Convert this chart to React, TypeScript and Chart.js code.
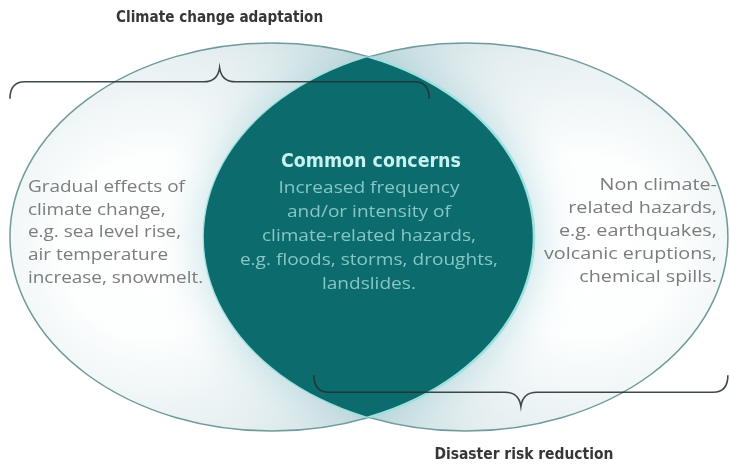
import React, { useEffect, useRef } from "react";
import { Chart, registerables } from "chart.js";

Chart.register(...registerables);

// ---- Data ----
const setNames = ["Climate change adaptation", "Disaster risk reduction"];
const setCenterX = [-0.37, 0.37];
const setCenterY = [0, 0];
const setRadius = [1, 1];
const overlapTitle = "Common concerns";
const leftOnlyLines = [
  "Gradual effects of",
  "climate change,",
  "e.g. sea level rise,",
  "air temperature",
  "increase, snowmelt.",
];
const overlapLines = [
  "Increased frequency",
  "and/or intensity of",
  "climate-related hazards,",
  "e.g. floods, storms, droughts,",
  "landslides.",
];
const rightOnlyLines = [
  "Non climate-",
  "related hazards,",
  "e.g. earthquakes,",
  "volcanic eruptions,",
  "chemical spills.",
];

const TEAL = "#0c6b6c";

function fitText(
  ctx: CanvasRenderingContext2D,
  text: string,
  x: number,
  y: number,
  align: CanvasTextAlign,
  sx: number
) {
  ctx.save();
  ctx.translate(x, y);
  ctx.scale(sx, 1);
  ctx.textAlign = align;
  ctx.textBaseline = "middle";
  ctx.fillText(text, 0, 0);
  ctx.restore();
}

function drawBlock(
  ctx: CanvasRenderingContext2D,
  lines: string[],
  x: number,
  y0: number,
  step: number,
  align: CanvasTextAlign,
  refIndex: number,
  targetW: number
) {
  const sx = targetW / ctx.measureText(lines[refIndex]).width;
  lines.forEach((l, i) => fitText(ctx, l, x, y0 + i * step, align, sx));
}

const vennPlugin = {
  id: "venn",
  beforeDatasetsDraw(chart: any) {
    const ctx: CanvasRenderingContext2D = chart.ctx;
    const xs = chart.scales.x;
    const ys = chart.scales.y;
    const W = chart.width;
    const H = chart.height;
    const E = setCenterX.map((c, i) => {
      const cx = xs.getPixelForValue(c);
      const cy = ys.getPixelForValue(setCenterY[i]);
      const rx = xs.getPixelForValue(c + setRadius[i]) - cx;
      const ry = cy - ys.getPixelForValue(setCenterY[i] + setRadius[i]);
      return { cx, cy, rx, ry };
    });
    const path = (i: number) => {
      ctx.beginPath();
      ctx.ellipse(E[i].cx, E[i].cy, E[i].rx, E[i].ry, 0, 0, Math.PI * 2);
    };

    ctx.save();
    ctx.fillStyle = "#ffffff";
    ctx.fillRect(0, 0, W, H);

    // ellipse fills
    E.forEach((e, i) => {
      const gx = i === 0 ? e.cx - e.rx * 0.46 : e.cx + e.rx * 0.46;
      const gy = e.cy + e.ry * 0.05;
      const g = ctx.createRadialGradient(gx, gy, 0, gx, gy, e.rx * 1.15);
      g.addColorStop(0, "#ffffff");
      g.addColorStop(0.3, "#fdfefe");
      g.addColorStop(0.7, "#e3edef");
      g.addColorStop(1, "#c6dadd");
      path(i);
      ctx.fillStyle = g;
      ctx.fill();
    });

    // outlines
    ctx.strokeStyle = "#6f9a9b";
    ctx.lineWidth = 1.5;
    E.forEach((_, i) => {
      path(i);
      ctx.stroke();
    });

    // lens with glow
    [0, 1].forEach((i) => {
      const j = 1 - i;
      ctx.save();
      path(i);
      ctx.clip();
      ctx.shadowColor = "rgba(120,185,198,0.5)";
      ctx.shadowBlur = 50;
      path(j);
      ctx.fillStyle = TEAL;
      ctx.fill();
      ctx.restore();
    });
    [0, 1].forEach((i) => {
      const j = 1 - i;
      ctx.save();
      path(i);
      ctx.clip();
      path(j);
      ctx.fillStyle = TEAL;
      ctx.fill();
      ctx.strokeStyle = "#9fe0e0";
      ctx.lineWidth = 2.5;
      ctx.stroke();
      ctx.restore();
    });

    // braces
    ctx.strokeStyle = "rgba(38,48,48,0.88)";
    ctx.lineWidth = 1.6;
    const brace = (x1: number, x2: number, y: number, dir: number) => {
      const mid = (x1 + x2) / 2;
      const tip = 14;
      const curl = 17;
      ctx.beginPath();
      ctx.moveTo(x1, y - dir * curl);
      ctx.quadraticCurveTo(x1, y, x1 + 15, y);
      ctx.lineTo(mid - 16, y);
      ctx.quadraticCurveTo(mid - 2, y, mid, y + dir * tip);
      ctx.quadraticCurveTo(mid + 2, y, mid + 16, y);
      ctx.lineTo(x2 - 15, y);
      ctx.quadraticCurveTo(x2, y, x2, y - dir * curl);
      ctx.stroke();
      return mid;
    };
    const e0 = E[0];
    const e1 = E[1];
    const topY = ys.getPixelForValue(setCenterY[0] + 0.8 * setRadius[0]);
    const botY = ys.getPixelForValue(setCenterY[1] - 0.8 * setRadius[1]);
    const m0 = brace(e0.cx - e0.rx, e0.cx + 0.6 * e0.rx, topY, -1);
    const m1 = brace(e1.cx - 0.58 * e1.rx, e1.cx + e1.rx, botY, 1);

    // set titles
    ctx.fillStyle = "#363636";
    ctx.font = 'bold 15px "DejaVu Sans Condensed", "DejaVu Sans", sans-serif';
    let sx = 207 / ctx.measureText(setNames[0]).width;
    fitText(ctx, setNames[0], m0, topY - 64, "center", sx);
    sx = 179 / ctx.measureText(setNames[1]).width;
    fitText(ctx, setNames[1], m1 + 3, botY + 63, "center", sx);

    // region texts
    ctx.font = '17px "Open Sans", sans-serif';
    ctx.fillStyle = "#7c7c7c";
    drawBlock(ctx, leftOnlyLines, e0.cx - e0.rx + 18, 187, 22.7, "left", 0, 157);
    drawBlock(ctx, rightOnlyLines, e1.cx + e1.rx - 11, 185, 23, "right", 3, 173);

    const midX = (e0.cx + e1.cx) / 2;
    ctx.font = 'bold 19px "DejaVu Sans Condensed", "DejaVu Sans", sans-serif';
    ctx.fillStyle = "#c8f2f0";
    sx = 180 / ctx.measureText(overlapTitle).width;
    fitText(ctx, overlapTitle, midX + 2, 162, "center", sx);
    ctx.font = '17px "Open Sans", sans-serif';
    ctx.fillStyle = "#86c6c6";
    drawBlock(ctx, overlapLines, midX, 188, 24, "center", 0, 181);

    ctx.restore();
  },
};

export default function App() {
  const ref = useRef<HTMLCanvasElement | null>(null);
  useEffect(() => {
    if (!ref.current) return;
    const chart = new Chart(ref.current, {
      type: "scatter",
      data: {
        datasets: [
          {
            label: "sets",
            data: setCenterX.map((x, i) => ({ x, y: setCenterY[i] })),
            pointRadius: 0,
            pointHoverRadius: 0,
          },
        ],
      },
      options: {
        animation: false,
        responsive: false,
        devicePixelRatio: 1,
        layout: { padding: 0 },
        events: [],
        scales: {
          x: { type: "linear", min: -1.408, max: 1.378, display: false },
          y: { type: "linear", min: -1.18, max: 1.2216, display: false },
        },
        plugins: {
          legend: { display: false },
          tooltip: { enabled: false },
          title: { display: false },
        },
      },
      plugins: [vennPlugin],
    });
    return () => chart.destroy();
  }, []);
  return (
    <div style={{ position: "fixed", left: 0, top: 0, width: 730, height: 466, background: "#fff" }}>
      <canvas ref={ref} width={730} height={466} style={{ width: 730, height: 466, display: "block" }} />
    </div>
  );
}
